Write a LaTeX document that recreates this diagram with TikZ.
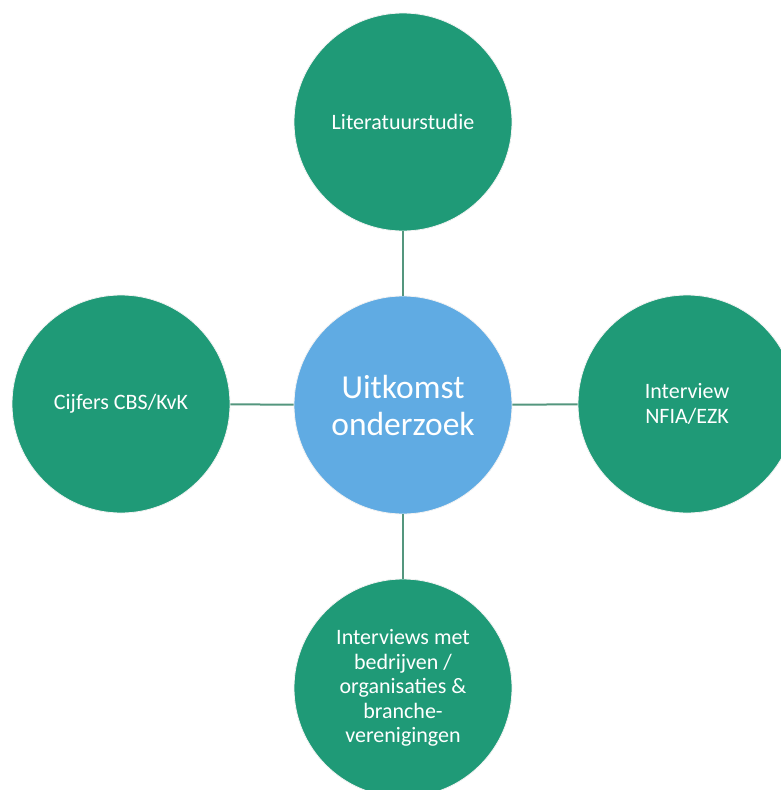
\documentclass[tikz,border=0pt]{standalone}
\usepackage{fontspec}
\setmainfont{Carlito}
\definecolor{bolgroen}{RGB}{31,154,119}
\definecolor{bolblauw}{RGB}{96,171,227}
\definecolor{lijngroen}{RGB}{84,150,126}
\tikzset{
  bol/.style={circle, fill=bolgroen, draw=white!90!gray, line width=0.8pt,
    minimum size=218pt, inner sep=0pt, text=white, align=center,
    font=\fontsize{22}{24.5}\selectfont},
  kern/.style={bol, fill=bolblauw, font=\fontsize{33.5}{37}\selectfont},
  lijn/.style={draw=lijngroen, line width=2pt}
}
\begin{document}
\begin{tikzpicture}[x=1pt, y=-1pt]
\useasboundingbox (0,0) rectangle (781,790);
\clip (0,0) rectangle (781,790);

\node[kern] (uitkomst) at (403,405) {Uitkomst\\onderzoek};

\node[bol] (literatuur) at (403,122) {Literatuurstudie};
\node[bol] (cijfers) at (121,404) {Cijfers CBS/KvK};
\node[bol] (nfia) at (687,404) {Interview\\NFIA/EZK};
\node[bol] (bedrijven) at (403,688) {Interviews met\\bedrijven /\\organisaties \&\\branche-\\verenigingen};

\draw[lijn] (literatuur) -- (uitkomst);
\draw[lijn] (cijfers) -- (uitkomst);
\draw[lijn] (nfia) -- (uitkomst);
\draw[lijn] (bedrijven) -- (uitkomst);

\end{tikzpicture}
\end{document}
